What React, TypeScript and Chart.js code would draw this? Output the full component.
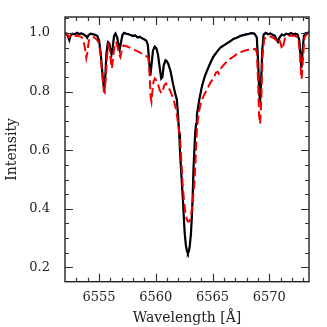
import React, { useEffect, useRef } from "react";
import { Chart, registerables } from "chart.js";

Chart.register(...registerables);

// Observed spectrum (black)
const blackWave = [
  6552.00, 6552.15, 6552.30, 6552.38, 6552.48, 6552.65, 6552.85, 6553.05, 6553.25, 6553.45,
  6553.65, 6553.85, 6553.95, 6554.05, 6554.25, 6554.45, 6554.65, 6554.85, 6555.00, 6555.15,
  6555.28, 6555.40, 6555.47, 6555.55, 6555.65, 6555.78, 6555.90, 6556.00, 6556.10, 6556.20,
  6556.32, 6556.45, 6556.60, 6556.72, 6556.82, 6556.92, 6557.05, 6557.20, 6557.40, 6557.60,
  6557.80, 6558.00, 6558.20, 6558.40, 6558.60, 6558.80, 6559.00, 6559.15, 6559.30, 6559.42,
  6559.52, 6559.62, 6559.75, 6559.90, 6560.05, 6560.20, 6560.35, 6560.48, 6560.58, 6560.70,
  6560.85, 6560.95, 6561.10, 6561.30, 6561.50, 6561.70, 6561.86, 6561.96, 6562.06, 6562.13,
  6562.21, 6562.30, 6562.39, 6562.47, 6562.55, 6562.65, 6562.75, 6562.83, 6562.92, 6563.00,
  6563.10, 6563.18, 6563.24, 6563.33, 6563.40, 6563.47, 6563.55, 6563.62, 6563.83, 6564.06,
  6564.30, 6564.50, 6564.80, 6565.09, 6565.40, 6565.68, 6566.00, 6566.27, 6566.55, 6566.85,
  6567.15, 6567.45, 6567.80, 6568.18, 6568.45, 6568.70, 6568.90, 6569.02, 6569.12, 6569.20,
  6569.28, 6569.38, 6569.50, 6569.70, 6569.90, 6570.10, 6570.30, 6570.50, 6570.65, 6570.77,
  6570.90, 6571.10, 6571.30, 6571.50, 6571.70, 6571.90, 6572.10, 6572.30, 6572.50, 6572.65,
  6572.75, 6572.83, 6572.92, 6573.05, 6573.20, 6573.35, 6573.50,
];
const blackFlux = [
  1.000, 0.998, 0.985, 0.976, 0.990, 0.998, 0.996, 1.000, 0.997, 0.999,
  0.995, 0.990, 0.984, 0.992, 0.998, 0.996, 0.994, 0.990, 0.975, 0.930,
  0.870, 0.820, 0.812, 0.850, 0.930, 0.968, 0.965, 0.945, 0.928, 0.950,
  0.990, 0.998, 0.985, 0.960, 0.943, 0.965, 0.992, 1.000, 0.998, 0.996,
  0.993, 0.990, 0.992, 0.985, 0.987, 0.982, 0.978, 0.975, 0.960, 0.900,
  0.855, 0.890, 0.940, 0.953, 0.948, 0.925, 0.880, 0.845, 0.850, 0.890,
  0.906, 0.905, 0.895, 0.870, 0.830, 0.795, 0.772, 0.720, 0.658, 0.600,
  0.544, 0.487, 0.430, 0.370, 0.316, 0.275, 0.255, 0.248, 0.255, 0.275,
  0.316, 0.375, 0.430, 0.544, 0.600, 0.658, 0.690, 0.720, 0.772, 0.817,
  0.850, 0.870, 0.897, 0.920, 0.937, 0.950, 0.958, 0.965, 0.972, 0.980,
  0.984, 0.990, 0.994, 0.997, 1.000, 0.998, 0.985, 0.900, 0.790, 0.772,
  0.830, 0.940, 0.995, 1.000, 0.996, 0.999, 0.994, 0.990, 0.978, 0.970,
  0.985, 0.995, 0.992, 0.998, 0.995, 1.000, 0.996, 0.998, 0.995, 0.975,
  0.920, 0.880, 0.930, 0.990, 1.000, 0.998, 1.005,
];
// Second observed spectrum (blue), almost identical to black
const blueFlux = [
  1.000, 0.999, 0.986, 0.978, 0.991, 0.999, 0.998, 1.004, 0.999, 1.000,
  0.996, 0.991, 0.986, 0.993, 0.999, 0.998, 0.995, 0.992, 0.977, 0.932,
  0.872, 0.822, 0.814, 0.852, 0.934, 0.974, 0.968, 0.947, 0.930, 0.953,
  0.993, 1.003, 0.987, 0.962, 0.945, 0.968, 0.995, 1.004, 0.999, 0.997,
  0.994, 0.993, 0.993, 0.987, 0.989, 0.984, 0.980, 0.977, 0.962, 0.902,
  0.857, 0.893, 0.943, 0.958, 0.950, 0.927, 0.882, 0.847, 0.853, 0.893,
  0.911, 0.908, 0.897, 0.872, 0.832, 0.797, 0.774, 0.722, 0.660, 0.602,
  0.546, 0.489, 0.432, 0.372, 0.318, 0.277, 0.257, 0.250, 0.257, 0.277,
  0.318, 0.377, 0.432, 0.546, 0.602, 0.660, 0.692, 0.723, 0.776, 0.820,
  0.853, 0.873, 0.902, 0.925, 0.939, 0.953, 0.960, 0.967, 0.974, 0.982,
  0.986, 0.992, 0.996, 0.999, 1.002, 0.999, 0.987, 0.902, 0.792, 0.774,
  0.832, 0.943, 0.998, 1.004, 0.998, 1.000, 0.996, 0.994, 0.980, 0.972,
  0.987, 0.997, 0.994, 0.999, 0.997, 1.002, 0.998, 0.999, 0.997, 0.979,
  0.925, 0.884, 0.933, 0.992, 1.002, 0.999, 1.006,
];

// Model spectrum (red dashed)
const redWave = [
  6552.00, 6552.20, 6552.35, 6552.50, 6552.80, 6553.10, 6553.40, 6553.60, 6553.75, 6553.88,
  6553.98, 6554.10, 6554.30, 6554.55, 6554.80, 6555.00, 6555.15, 6555.30, 6555.43, 6555.50,
  6555.58, 6555.70, 6555.82, 6555.95, 6556.05, 6556.13, 6556.25, 6556.38, 6556.50, 6556.65,
  6556.80, 6556.88, 6557.00, 6557.15, 6557.35, 6557.60, 6557.85, 6558.15, 6558.45, 6558.70,
  6558.90, 6559.15, 6559.35, 6559.45, 6559.55, 6559.62, 6559.70, 6559.80, 6559.92, 6560.05,
  6560.20, 6560.35, 6560.50, 6560.62, 6560.75, 6560.90, 6561.05, 6561.25, 6561.45, 6561.60,
  6561.75, 6561.88, 6562.00, 6562.12, 6562.20, 6562.28, 6562.36, 6562.48, 6562.60, 6562.72,
  6562.85, 6562.98, 6563.10, 6563.24, 6563.40, 6563.48, 6563.54, 6563.60, 6563.70, 6563.82,
  6563.95, 6564.20, 6564.50, 6564.80, 6565.09, 6565.30, 6565.45, 6565.55, 6565.75, 6566.00,
  6566.27, 6566.55, 6566.85, 6567.15, 6567.45, 6567.80, 6568.15, 6568.50, 6568.77, 6568.90,
  6569.00, 6569.10, 6569.20, 6569.30, 6569.40, 6569.55, 6569.75, 6570.00, 6570.30, 6570.55,
  6570.70, 6570.85, 6571.00, 6571.12, 6571.22, 6571.40, 6571.70, 6572.00, 6572.30, 6572.55,
  6572.70, 6572.80, 6572.85, 6572.95, 6573.10, 6573.30, 6573.50,
];
const redFlux = [
  1.000, 0.995, 0.985, 0.993, 0.992, 0.990, 0.988, 0.980, 0.950, 0.915,
  0.935, 0.975, 0.985, 0.986, 0.978, 0.965, 0.920, 0.850, 0.800, 0.797,
  0.840, 0.920, 0.958, 0.940, 0.900, 0.880, 0.920, 0.965, 0.968, 0.950,
  0.925, 0.918, 0.940, 0.958, 0.956, 0.952, 0.948, 0.942, 0.937, 0.932,
  0.928, 0.922, 0.915, 0.860, 0.780, 0.766, 0.800, 0.835, 0.845, 0.838,
  0.825, 0.805, 0.795, 0.805, 0.822, 0.828, 0.818, 0.805, 0.785, 0.768,
  0.745, 0.715, 0.680, 0.650, 0.600, 0.544, 0.487, 0.430, 0.390, 0.365,
  0.356, 0.358, 0.375, 0.420, 0.487, 0.544, 0.600, 0.658, 0.700, 0.735,
  0.758, 0.785, 0.806, 0.830, 0.846, 0.865, 0.868, 0.862, 0.880, 0.892,
  0.903, 0.912, 0.920, 0.928, 0.934, 0.940, 0.943, 0.945, 0.946, 0.935,
  0.850, 0.720, 0.690, 0.780, 0.920, 0.980, 0.987, 0.990, 0.985, 0.978,
  0.972, 0.980, 0.965, 0.945, 0.955, 0.985, 0.990, 0.992, 0.990, 0.985,
  0.930, 0.860, 0.843, 0.900, 0.985, 0.997, 1.000,
];

const xMin = 6552.0;
const xMax = 6573.5;
const yMin = 0.151;
const yMax = 1.055;
const xTickStep = 1;
const xLabelEvery = 5;
const yTickStep = 0.05;
const yLabelEvery = 0.2;
const xTitle = "Wavelength [Å]";
const yTitle = "Intensity";

const FONT = "'DejaVu Serif', 'Liberation Serif', serif";
const INK = "#222";

const isMultiple = (v: number, step: number) => {
  const r = v / step;
  return Math.abs(r - Math.round(r)) < 1e-6;
};

const framePlugin = {
  id: "frameTicks",
  afterDraw(chart: any) {
    const { ctx, chartArea: a, scales } = chart;
    ctx.save();
    ctx.strokeStyle = "#333";
    ctx.lineWidth = 1.2;
    ctx.beginPath();
    scales.x.ticks.forEach((t: any) => {
      const px = Math.round(scales.x.getPixelForValue(t.value)) + 0.5;
      if (px <= a.left + 1 || px >= a.right - 1) return;
      const len = isMultiple(t.value, xLabelEvery) ? 8 : 4;
      ctx.moveTo(px, a.bottom);
      ctx.lineTo(px, a.bottom - len);
      ctx.moveTo(px, a.top);
      ctx.lineTo(px, a.top + len);
    });
    scales.y.ticks.forEach((t: any) => {
      const py = Math.round(scales.y.getPixelForValue(t.value)) + 0.5;
      if (py <= a.top + 1 || py >= a.bottom - 1) return;
      const len = isMultiple(t.value, yLabelEvery) ? 8 : 4;
      ctx.moveTo(a.left, py);
      ctx.lineTo(a.left + len, py);
      ctx.moveTo(a.right, py);
      ctx.lineTo(a.right - len, py);
    });
    ctx.stroke();
    ctx.lineWidth = 1.4;
    ctx.strokeStyle = "#222";
    ctx.strokeRect(a.left, a.top, a.right - a.left, a.bottom - a.top);
    ctx.restore();
  },
};

export default function App() {
  const ref = useRef<HTMLCanvasElement | null>(null);

  useEffect(() => {
    if (!ref.current) return;
    const black = blackWave.map((x, i) => ({ x, y: blackFlux[i] }));
    const blue = blackWave.map((x, i) => ({ x, y: blueFlux[i] }));
    const red = redWave.map((x, i) => ({ x, y: redFlux[i] }));

    const chart = new Chart(ref.current, {
      type: "line",
      data: {
        datasets: [
          {
            label: "model",
            data: red,
            borderColor: "rgb(240,0,0)",
            borderWidth: 2,
            borderDash: [9, 4],
            pointRadius: 0,
            tension: 0,
            order: 0,
          },
          {
            label: "obs1",
            data: black,
            borderColor: "#000",
            borderWidth: 2.2,
            pointRadius: 0,
            tension: 0,
            order: 1,
          },
          {
            label: "obs2",
            data: blue,
            borderColor: "#1010ff",
            borderWidth: 1,
            pointRadius: 0,
            tension: 0,
            order: 2,
          },
        ],
      },
      options: {
        animation: false,
        responsive: false,
        maintainAspectRatio: false,
        devicePixelRatio: 1,
        events: [],
        layout: { padding: { top: 17, right: 18, left: 0, bottom: 0 } },
        plugins: {
          legend: { display: false },
          tooltip: { enabled: false },
        },
        scales: {
          x: {
            type: "linear",
            min: xMin,
            max: xMax,
            grid: { display: false, drawTicks: false },
            border: { display: false },
            afterFit: (s: any) => {
              s.height = 45.3;
              s.paddingLeft = 0;
              s.paddingRight = 0;
            },
            ticks: {
              stepSize: xTickStep,
              includeBounds: false,
              autoSkip: false,
              maxRotation: 0,
              padding: 8,
              color: INK,
              font: { family: FONT, size: 13 },
              callback: (v: any) => (isMultiple(Number(v), xLabelEvery) ? String(Math.round(Number(v))) : ""),
            },
            title: {
              display: true,
              text: xTitle,
              color: INK,
              font: { family: FONT, size: 14 },
              padding: { top: 0, bottom: 0 },
            },
          },
          y: {
            type: "linear",
            min: yMin,
            max: yMax,
            grid: { display: false, drawTicks: false },
            border: { display: false },
            afterFit: (s: any) => {
              s.width = 65;
              s.paddingTop = 0;
              s.paddingBottom = 0;
            },
            ticks: {
              stepSize: yTickStep,
              includeBounds: false,
              autoSkip: false,
              padding: 15,
              color: INK,
              font: { family: FONT, size: 13 },
              callback: (v: any) => (isMultiple(Number(v), yLabelEvery) ? Number(v).toFixed(1) : ""),
            },
            title: {
              display: true,
              text: yTitle,
              color: INK,
              font: { family: FONT, size: 14 },
              padding: { top: 4, bottom: 0 },
            },
          },
        },
      },
      plugins: [framePlugin],
    });
    return () => chart.destroy();
  }, []);

  return (
    <div style={{ position: "absolute", left: 0, top: 0, width: 327, height: 327, background: "#fff" }}>
      <canvas ref={ref} width={327} height={327} style={{ width: 327, height: 327 }} />
    </div>
  );
}
